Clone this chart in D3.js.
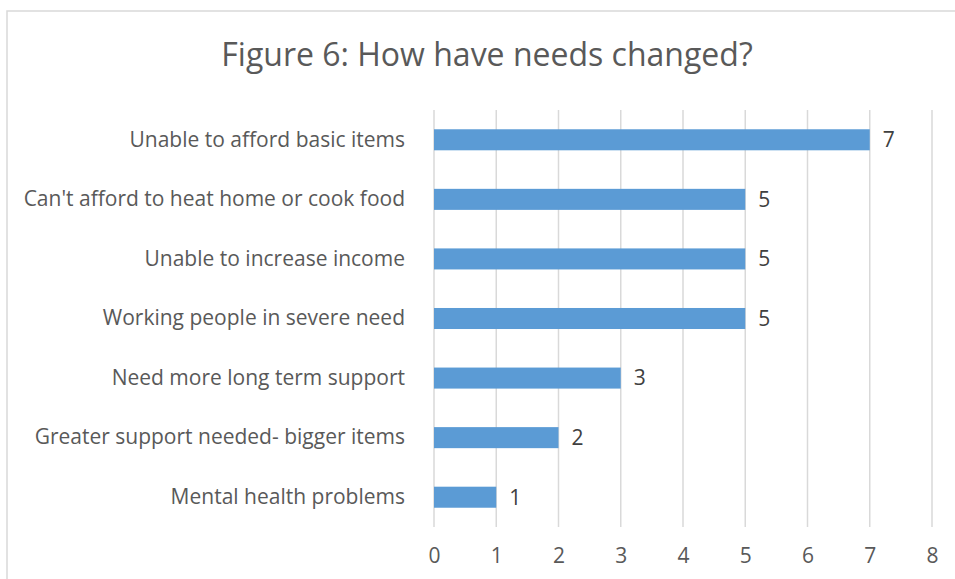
<!DOCTYPE html>
<html>
<head>
<meta charset="utf-8">
<script src="https://cdn.jsdelivr.net/npm/d3@7"></script>
<style>
  html, body { margin: 0; padding: 0; background: #fff; }
  svg { display: block; }
</style>
</head>
<body>
<svg id="chart" width="955" height="579"></svg>
<script>
// Survey responses: how needs have changed
const categories = [
  "Unable to afford basic items",
  "Can't afford to heat home or cook food",
  "Unable to increase income",
  "Working people in severe need",
  "Need more long term support",
  "Greater support needed- bigger items",
  "Mental health problems"
];
const counts = [7, 5, 5, 5, 3, 2, 1];
const tickValues = [0, 1, 2, 3, 4, 5, 6, 7, 8];
const titleText = "Figure 6: How have needs changed?";

const svg = d3.select("#chart");
const FONT = "'Open Sans', 'Noto Sans', sans-serif";

// chart frame (runs off the right and bottom edges)
svg.append("rect")
  .attr("x", 7).attr("y", 11)
  .attr("width", 1000).attr("height", 700)
  .attr("fill", "#fff")
  .attr("stroke", "#d9d9d9")
  .attr("stroke-width", 1.5);

const x = d3.scaleLinear().domain([0, 8]).range([434, 932]);
const y = d3.scaleBand().domain(categories).range([110, 527])
  .paddingInner(0.647).paddingOuter(0.3235);

// vertical gridlines
svg.append("g")
  .selectAll("line")
  .data(tickValues)
  .join("line")
  .attr("x1", d => x(d)).attr("x2", d => x(d))
  .attr("y1", 110).attr("y2", 527)
  .attr("stroke", "#d9d9d9")
  .attr("stroke-width", 1.5);

// x axis tick labels
const xAxis = d3.axisBottom(x).tickValues(tickValues).tickSize(0).tickPadding(0);
const gx = svg.append("g").attr("transform", "translate(0,556)").call(xAxis);
gx.select(".domain").remove();
gx.selectAll("text")
  .attr("dy", "0.35em")
  .attr("y", 0)
  .attr("fill", "#595959")
  .style("font-family", FONT)
  .style("font-size", "21px");

// category labels
const yAxis = d3.axisLeft(y).tickSize(0).tickPadding(0);
const gy = svg.append("g").attr("transform", "translate(405,0)").call(yAxis);
gy.select(".domain").remove();
gy.selectAll("text")
  .attr("fill", "#595959")
  .style("font-family", FONT)
  .style("font-size", "21px");

// bars
svg.append("g")
  .selectAll("rect")
  .data(counts)
  .join("rect")
  .attr("x", x(0))
  .attr("y", (d, i) => y(categories[i]))
  .attr("width", d => x(d) - x(0))
  .attr("height", y.bandwidth())
  .attr("fill", "#5b9bd5");

// value labels
svg.append("g")
  .selectAll("text")
  .data(counts)
  .join("text")
  .attr("x", d => x(d) + 13)
  .attr("y", (d, i) => y(categories[i]) + y.bandwidth() / 2)
  .attr("dy", "0.35em")
  .attr("fill", "#404040")
  .style("font-family", FONT)
  .style("font-size", "21px")
  .text(d => d);

// title
svg.append("text")
  .attr("x", 487).attr("y", 66)
  .attr("text-anchor", "middle")
  .attr("fill", "#595959")
  .style("font-family", FONT)
  .style("font-size", "32px")
  .text(titleText);
</script>
</body>
</html>
